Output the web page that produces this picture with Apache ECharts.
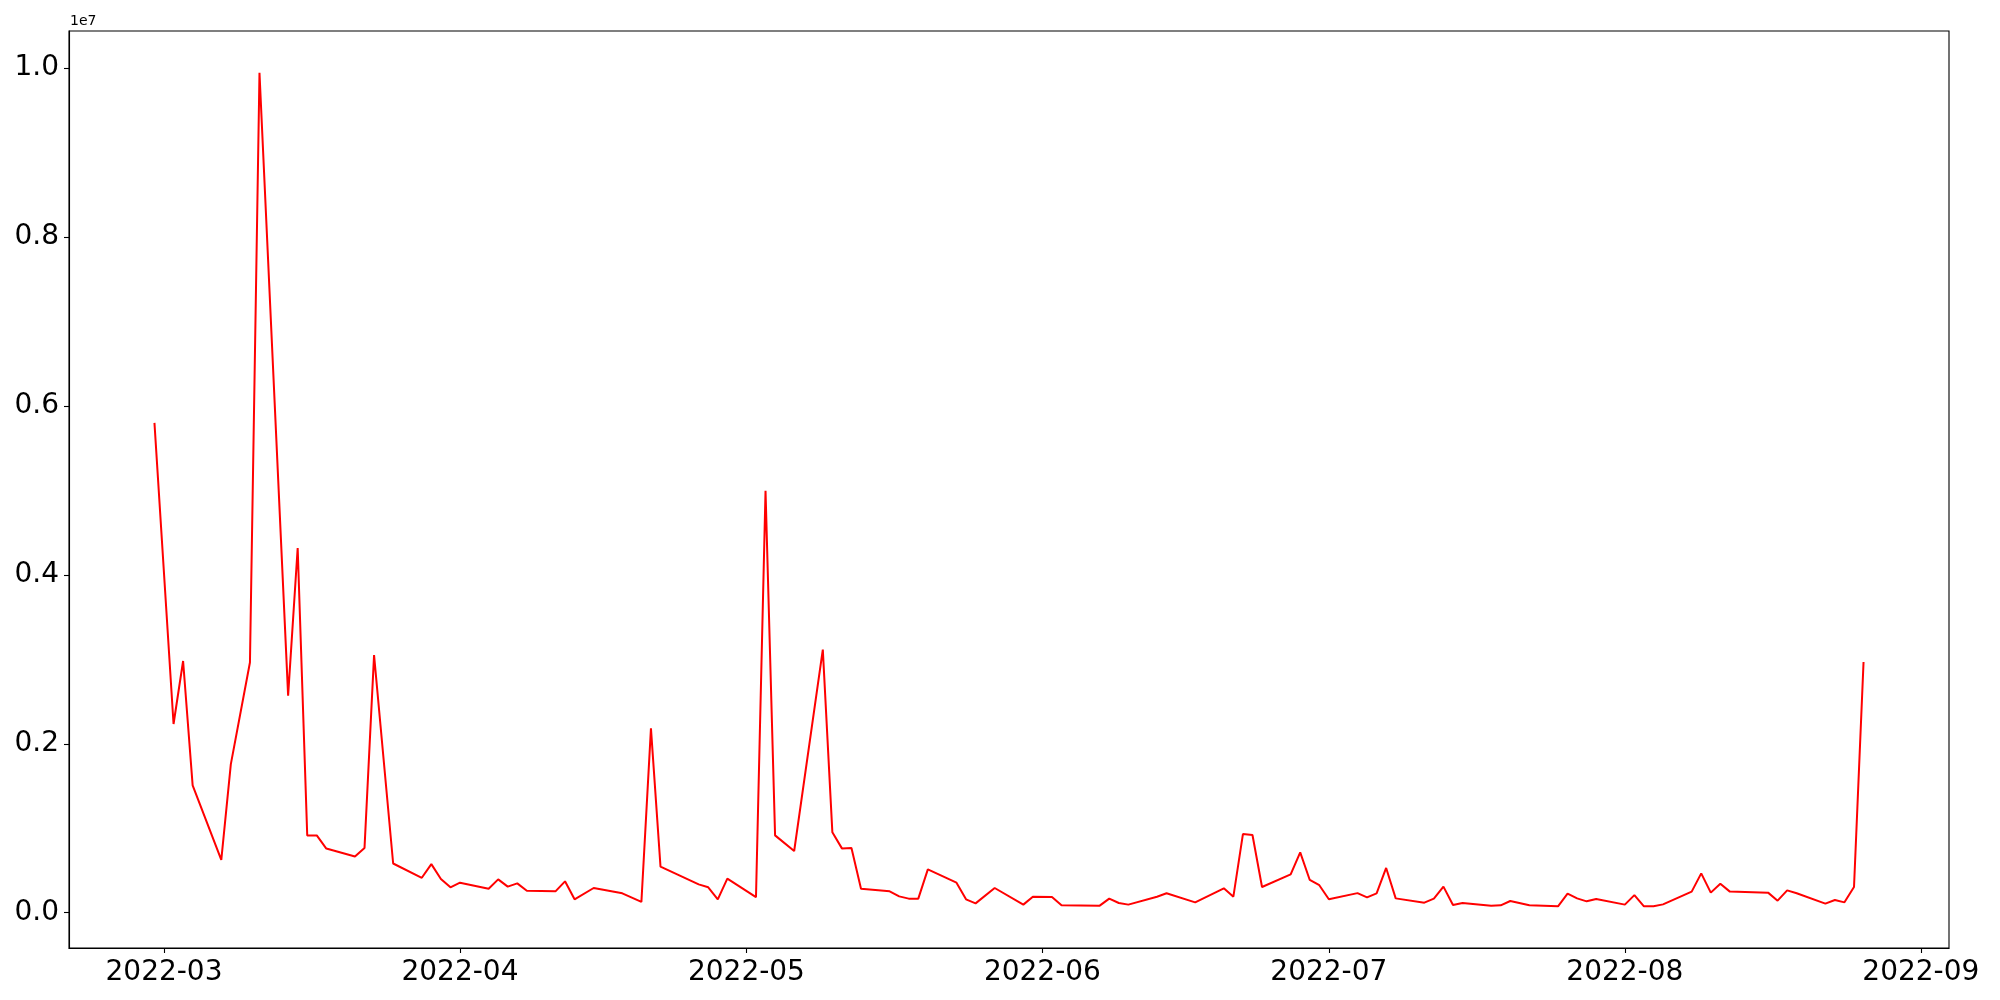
<!DOCTYPE html>
<html>
<head>
<meta charset="utf-8">
<script src="https://cdn.jsdelivr.net/npm/echarts@6/dist/echarts.min.js"></script>
<style>
  html, body { margin: 0; padding: 0; background: #fff; }
  #chart { width: 2000px; height: 1000px; }
</style>
</head>
<body>
<div id="chart"></div>
<script>
var dates = [
  '2022-02-28', '2022-03-02', '2022-03-03', '2022-03-04', '2022-03-07', '2022-03-08', '2022-03-10', '2022-03-11',
  '2022-03-14', '2022-03-15', '2022-03-16', '2022-03-17', '2022-03-18', '2022-03-21', '2022-03-22', '2022-03-23',
  '2022-03-25', '2022-03-28', '2022-03-29', '2022-03-30', '2022-03-31', '2022-04-01', '2022-04-04', '2022-04-05',
  '2022-04-06', '2022-04-07', '2022-04-08', '2022-04-11', '2022-04-12', '2022-04-13', '2022-04-15', '2022-04-18',
  '2022-04-20', '2022-04-21', '2022-04-22', '2022-04-26', '2022-04-27', '2022-04-28', '2022-04-29', '2022-05-02',
  '2022-05-03', '2022-05-04', '2022-05-06', '2022-05-09', '2022-05-10', '2022-05-11', '2022-05-12', '2022-05-13',
  '2022-05-16', '2022-05-17', '2022-05-18', '2022-05-19', '2022-05-20', '2022-05-23', '2022-05-24', '2022-05-25',
  '2022-05-27', '2022-05-30', '2022-05-31', '2022-06-02', '2022-06-03', '2022-06-07', '2022-06-08', '2022-06-09',
  '2022-06-10', '2022-06-13', '2022-06-14', '2022-06-17', '2022-06-20', '2022-06-21', '2022-06-22', '2022-06-23',
  '2022-06-24', '2022-06-27', '2022-06-28', '2022-06-29', '2022-06-30', '2022-07-01', '2022-07-04', '2022-07-05',
  '2022-07-06', '2022-07-07', '2022-07-08', '2022-07-11', '2022-07-12', '2022-07-13', '2022-07-14', '2022-07-15',
  '2022-07-18', '2022-07-19', '2022-07-20', '2022-07-22', '2022-07-25', '2022-07-26', '2022-07-27', '2022-07-28',
  '2022-07-29', '2022-08-01', '2022-08-02', '2022-08-03', '2022-08-04', '2022-08-05', '2022-08-08', '2022-08-09',
  '2022-08-10', '2022-08-11', '2022-08-12', '2022-08-16', '2022-08-17', '2022-08-18', '2022-08-19', '2022-08-22',
  '2022-08-23', '2022-08-24', '2022-08-25', '2022-08-26'
];

var values = [
  5800000, 2234000, 2980000, 1507000, 624000, 1758000, 2962000, 9946000,
  2570000, 4318000, 915000, 915000, 759000, 664000, 766000, 3050000,
  582000, 413000, 575000, 399000, 300000, 355000, 284000, 394000,
  308000, 347000, 260000, 252000, 371000, 158000, 292000, 229000,
  127000, 2182000, 545000, 335000, 300000, 158000, 403000, 184000,
  4996000, 915000, 730000, 3114000, 951000, 761000, 766000, 284000,
  252000, 193000, 166000, 166000, 513000, 355000, 158000, 110000,
  292000, 95000, 189000, 186000, 87000, 83000, 166000, 114000,
  95000, 189000, 229000, 122000, 288000, 189000, 931000, 920000,
  304000, 453000, 714000, 387000, 325000, 158000, 231000, 181000,
  229000, 529000, 169000, 118000, 166000, 308000, 91000, 114000,
  83000, 87000, 138000, 87000, 75000, 225000, 169000, 134000,
  162000, 95000, 208000, 75000, 75000, 98000, 249000, 465000,
  237000, 343000, 249000, 237000, 142000, 264000, 229000, 107000,
  150000, 122000, 304000, 2968000
];

var xTicks = ['2022-03-01', '2022-04-01', '2022-05-01', '2022-06-01', '2022-07-01', '2022-08-01', '2022-09-01'];
var yTicks = [0, 2000000, 4000000, 6000000, 8000000, 10000000];

var DAY = 86400000;
function ts(s) {
  var p = s.split('-');
  return new Date(+p[0], +p[1] - 1, +p[2]).getTime();
}

var seriesData = dates.map(function (d, i) { return [ts(d), values[i]]; });
// 5% padding on both ends, like matplotlib's default margins
var xMin = ts(dates[0]) - 8.95 * DAY;
var xMax = ts(dates[dates.length - 1]) + 8.95 * DAY;
var xTickVals = xTicks.map(ts);

var font = 'DejaVu Sans';
var chart = echarts.init(document.getElementById('chart'), null, { renderer: 'canvas' });

chart.setOption({
  animation: false,
  backgroundColor: '#ffffff',
  grid: {
    left: 69, top: 31, width: 1880, height: 917,
    show: true, borderColor: '#000', borderWidth: 1.1,
    backgroundColor: 'transparent'
  },
  graphic: [{
    type: 'text', left: 70, top: 14,
    style: { text: '1e7', font: '14px "DejaVu Sans"', fill: '#000' }
  }],
  xAxis: {
    type: 'value',
    min: xMin, max: xMax,
    axisLine: { show: true, onZero: false, lineStyle: { color: '#000', width: 1.1 } },
    axisTick: { show: true, inside: false, length: 5, lineStyle: { color: '#000', width: 1.1 }, customValues: xTickVals },
    splitLine: { show: false },
    axisLabel: {
      customValues: xTickVals,
      margin: 11, color: '#000', fontFamily: font, fontSize: 28,
      formatter: function (v) {
        var d = new Date(v);
        var m = d.getMonth() + 1;
        return d.getFullYear() + '-' + (m < 10 ? '0' + m : m);
      }
    }
  },
  yAxis: {
    type: 'value',
    min: -418600, max: 10440000,
    axisLine: { show: true, onZero: false, lineStyle: { color: '#000', width: 1.1 } },
    axisTick: { show: true, inside: false, length: 5, lineStyle: { color: '#000', width: 1.1 }, customValues: yTicks },
    splitLine: { show: false },
    axisLabel: {
      customValues: yTicks,
      margin: 10, color: '#000', fontFamily: font, fontSize: 28,
      formatter: function (v) { return (v / 1e7).toFixed(1); }
    }
  },
  series: [{
    type: 'line',
    data: seriesData,
    showSymbol: false,
    symbol: 'none',
    lineStyle: { color: '#ff0000', width: 2 },
    itemStyle: { color: '#ff0000' }
  }]
});
</script>
</body>
</html>
